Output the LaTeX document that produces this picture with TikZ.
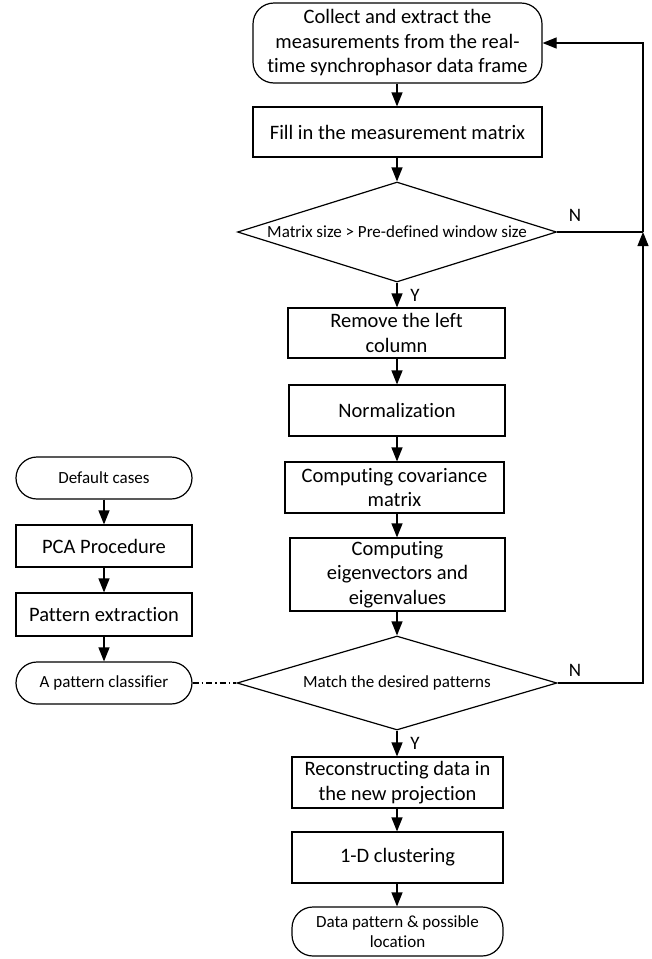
\documentclass[tikz,border=0pt]{standalone}
\usepackage{fontspec}
\setmainfont{Carlito}[Ligatures={NoCommon}]
\usetikzlibrary{shapes.geometric,arrows.meta}
\tikzset{
  base/.style={draw=black, line width=1.2pt, align=center, inner sep=0pt},
  big/.style={font=\fontsize{20.5}{24.5}\selectfont},
  small/.style={font=\fontsize{17}{20}\selectfont},
  procbox/.style={base, rectangle, big},
  termbox/.style={base, rectangle, rounded corners=21pt},
  decbox/.style={base, diamond, small},
  flow/.style={line width=1.2pt, -{Triangle[length=14pt,width=11pt]}},
  plainline/.style={line width=1.2pt},
  dashdotline/.style={line width=1.1pt, dash pattern=on 6pt off 3pt on 1.5pt off 3pt},
  yn/.style={font=\fontsize{19}{22}\selectfont, inner sep=0pt}
}
\begin{document}
\begin{tikzpicture}[x=1pt,y=1pt]
\useasboundingbox (0,0) rectangle (652,-959);
% main column
\node[termbox, big, minimum width=289pt, minimum height=80pt] (collect) at (397.5,-43)
  {Collect and extract the\\measurements from the real-\\time synchrophasor data frame};
\node[procbox, minimum width=289pt, minimum height=50pt] (fill) at (397.5,-132)
  {Fill in the measurement matrix};
\node[decbox, minimum width=319pt, minimum height=100pt,
  label={[small]center:Matrix size > Pre-defined window size}] (d1) at (397,-232) {};
\node[procbox, minimum width=217pt, minimum height=50pt] (remove) at (396.5,-333)
  {Remove the left\\column};
\node[procbox, minimum width=216pt, minimum height=51pt] (norm) at (397,-410.5)
  {Normalization};
\node[procbox, minimum width=219pt, minimum height=51pt] (cov) at (394.5,-487.5)
  {Computing covariance\\matrix};
\node[procbox, minimum width=215pt, minimum height=73pt] (eig) at (397.5,-574.5)
  {Computing\\eigenvectors and\\eigenvalues};
\node[decbox, minimum width=320pt, minimum height=94pt,
  label={[small]center:Match the desired patterns}] (d2) at (397,-683) {};
\node[procbox, minimum width=211pt, minimum height=51pt] (recon) at (397.5,-782.5)
  {Reconstructing data in\\the new projection};
\node[procbox, minimum width=211pt, minimum height=51pt] (clust) at (397.5,-857.5)
  {1-D clustering};
\node[termbox, small, minimum width=211pt, minimum height=49pt] (result) at (397.5,-931.5)
  {Data pattern \& possible\\location};
% left column
\node[termbox, small, minimum width=176pt, minimum height=42pt] (default) at (104,-478)
  {Default cases};
\node[procbox, minimum width=176pt, minimum height=42pt] (pca) at (104,-546)
  {PCA Procedure};
\node[procbox, minimum width=176pt, minimum height=43pt] (pattern) at (104,-614.5)
  {Pattern extraction};
\node[termbox, small, minimum width=176pt, minimum height=42pt] (classifier) at (104,-683)
  {A pattern classifier};
% loop coordinates
\coordinate (r1) at (643,-232);
\coordinate (r0) at (643,-43);
\coordinate (r2) at (643,-683);
% connectors main
\draw[flow] (collect.south -| d1) -- (fill.north -| d1);
\draw[flow] (fill.south -| d1) -- (d1.north);
\draw[flow] (d1.south) -- (remove.north -| d1);
\draw[flow] (remove.south -| d1) -- (norm.north -| d1);
\draw[flow] (norm.south -| d1) -- (cov.north -| d1);
\draw[flow] (cov.south -| d1) -- (eig.north -| d1);
\draw[flow] (eig.south -| d2) -- (d2.north);
\draw[flow] (d2.south) -- (recon.north -| d2);
\draw[flow] (recon.south -| d2) -- (clust.north -| d2);
\draw[flow] (clust.south -| d2) -- (result.north -| d2);
% loops
\draw[plainline] (d1.east) -- (r1);
\draw[flow] (r1) -- (r0) -- (collect.east);
\draw[flow] (d2.east) -- (r2) -- (r1);
% left connectors
\draw[flow] (default) -- (pca);
\draw[flow] (pca) -- (pattern);
\draw[flow] (pattern) -- (classifier);
\draw[dashdotline] (classifier.east) -- (d2.west);
% labels
\node[yn] (n1) at (575,-215) {N};
\node[yn] (n2) at (575,-670) {N};
\node[yn] (y1) at (415,-295) {Y};
\node[yn] (y2) at (415,-743) {Y};
\end{tikzpicture}
\end{document}
